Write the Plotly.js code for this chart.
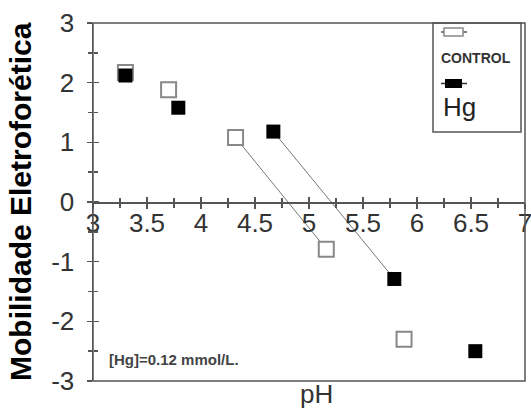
<!DOCTYPE html>
<html>
<head>
<meta charset="utf-8">
<script src="https://cdn.plot.ly/plotly-3.0.1.min.js"></script>
<style>html,body{margin:0;padding:0;background:#fff;}#chart{width:531px;height:410px;}</style>
</head>
<body>
<div id="chart"></div>
<script>
// pH values and electrophoretic mobility
const phControl = [3.30, 3.70, 4.32, 5.16, 5.88];
const mobControl = [2.17, 1.88, 1.08, -0.79, -2.30];
const phHg = [3.30, 3.79, 4.67, 5.79, 6.54];
const mobHg = [2.12, 1.58, 1.18, -1.29, -2.50];
// indices of the points joined by a straight line in each series
const lineIdx = [2, 4];
const seriesNames = ["CONTROL", "Hg"];
const yTitle = "Mobilidade Eletroforética";
const xTitle = "pH";
const note = "[Hg]=0.12 mmol/L.";
const xTickVals = [3, 3.5, 4, 4.5, 5, 5.5, 6, 6.5, 7];
const xTickText = ["3", "3.5", "4", "4.5", "5", "5.5", "6", "6.5", "7"];
const yTickVals = [-3, -2, -1, 0, 1, 2, 3];
const yTickText = ["-3", "-2", "-1", "0", "1", "2", "3"];

const axisColor = "#555";
const tickFont = {family: "Liberation Sans, Arial, sans-serif", size: 26, color: "#333"};

const traces = [
  {x: phControl.slice(lineIdx[0], lineIdx[1]), y: mobControl.slice(lineIdx[0], lineIdx[1]),
   mode: "lines", line: {color: "#777", width: 1}, showlegend: false, hoverinfo: "skip"},
  {x: phHg.slice(lineIdx[0], lineIdx[1]), y: mobHg.slice(lineIdx[0], lineIdx[1]),
   mode: "lines", line: {color: "#777", width: 1}, showlegend: false, hoverinfo: "skip"},
  {x: phControl, y: mobControl, name: seriesNames[0], mode: "markers", showlegend: false,
   marker: {symbol: "square", size: 15, color: "#fff", line: {color: "#888", width: 2}}},
  {x: phHg, y: mobHg, name: seriesNames[1], mode: "markers", showlegend: false,
   marker: {symbol: "square", size: 14, color: "#000", line: {color: "#000", width: 0}}},
  {x: [], y: [], xaxis: "x2", yaxis: "y2", showlegend: false, hoverinfo: "skip", mode: "markers"}
];

const L = 93, R = 525, T = 23, B = 381;
const px = v => (v - L) / (R - L);
const py = v => (B - v) / (B - T);

const layout = {
  width: 531, height: 410,
  margin: {l: L, r: 531 - R, t: T, b: 410 - B},
  paper_bgcolor: "#fff", plot_bgcolor: "#fff",
  showlegend: false,
  xaxis: {range: [3, 7], anchor: "free", position: 0.5,
    tickmode: "array", tickvals: xTickVals, ticktext: xTickText,
    ticks: "outside", ticklen: 5, tickwidth: 1.5, tickcolor: axisColor,
    minor: {dtick: 0.25, tick0: 3, ticks: "outside", ticklen: 4, tickcolor: axisColor, tickwidth: 1.5},
    ticklabelstandoff: -8, ticklabeloverflow: "allow",
    showline: true, linecolor: axisColor, linewidth: 1.5,
    showgrid: false, zeroline: false, tickfont: tickFont, fixedrange: true},
  yaxis: {range: [-3, 3], tickmode: "array", tickvals: yTickVals, ticktext: yTickText,
    ticks: "outside", ticklen: 5, tickwidth: 1.5, tickcolor: axisColor,
    minor: {dtick: 0.5, tick0: 0, ticks: "outside", ticklen: 4, tickcolor: axisColor, tickwidth: 1.5},
    ticklabelstandoff: 7,
    showline: true, linecolor: axisColor, linewidth: 1.5,
    showgrid: false, zeroline: false, tickfont: tickFont, fixedrange: true},
  xaxis2: {range: [3, 7], overlaying: "x", anchor: "free", position: 0.5, dtick: 0.5, tick0: 3,
    ticks: "inside", ticklen: 5, tickwidth: 1.5, tickcolor: axisColor,
    minor: {dtick: 0.25, ticks: "inside", ticklen: 4, tickcolor: axisColor, tickwidth: 1.5},
    showticklabels: false, showline: false, showgrid: false, zeroline: false},
  yaxis2: {range: [-3, 3], overlaying: "y", anchor: "free", position: 0, dtick: 1, tick0: 0,
    ticks: "inside", ticklen: 5, tickwidth: 1.5, tickcolor: axisColor,
    minor: {dtick: 0.5, ticks: "inside", ticklen: 4, tickcolor: axisColor, tickwidth: 1.5},
    showticklabels: false, showline: false, showgrid: false, zeroline: false},
  shapes: [
    {type: "rect", xref: "paper", yref: "paper", x0: 0, x1: 1, y0: 0, y1: 1,
     line: {color: axisColor, width: 1.5}},
    {type: "rect", xref: "paper", yref: "paper", x0: px(433), x1: px(521), y0: py(132), y1: 1,
     line: {color: axisColor, width: 1.5}},
    {type: "line", xref: "paper", yref: "paper", x0: px(441), x1: px(467), y0: py(32), y1: py(32),
     line: {color: "#555", width: 1.5}},
    {type: "rect", xref: "paper", yref: "paper", x0: px(444), x1: px(463), y0: py(36), y1: py(28),
     fillcolor: "#fff", line: {color: "#888", width: 1.5}},
    {type: "line", xref: "paper", yref: "paper", x0: px(441), x1: px(467), y0: py(83.5), y1: py(83.5),
     line: {color: "#333", width: 1.5}},
    {type: "rect", xref: "paper", yref: "paper", x0: px(445), x1: px(462), y0: py(88), y1: py(79),
     fillcolor: "#000", line: {color: "#000", width: 0}}
  ],
  annotations: [
    {text: "<b>" + yTitle + "</b>", xref: "paper", yref: "paper", x: 0, xshift: -73, y: 0.5,
     textangle: -90, showarrow: false, xanchor: "center", yanchor: "middle",
     font: {family: "Liberation Sans, Arial, sans-serif", size: 30, color: "#000"}},
    {text: xTitle, xref: "paper", yref: "paper", x: px(316), y: py(394),
     showarrow: false, xanchor: "center", yanchor: "middle",
     font: {family: "Liberation Sans, Arial, sans-serif", size: 26, color: "#333"}},
    {text: "<b>" + note + "</b>", xref: "paper", yref: "paper", x: px(107), y: py(359),
     showarrow: false, xanchor: "left", yanchor: "middle",
     font: {family: "Liberation Sans, Arial, sans-serif", size: 15, color: "#444"}},
    {text: "<b>" + seriesNames[0] + "</b>", xref: "paper", yref: "paper", x: px(439), y: py(58),
     showarrow: false, xanchor: "left", yanchor: "middle",
     font: {family: "Liberation Sans, Arial, sans-serif", size: 14, color: "#333"}},
    {text: seriesNames[1], xref: "paper", yref: "paper", x: px(441), y: py(107),
     showarrow: false, xanchor: "left", yanchor: "middle",
     font: {family: "Liberation Sans, Arial, sans-serif", size: 26, color: "#222"}}
  ]
};

Plotly.newPlot("chart", traces, layout, {staticPlot: true, displayModeBar: false});
</script>
</body>
</html>
